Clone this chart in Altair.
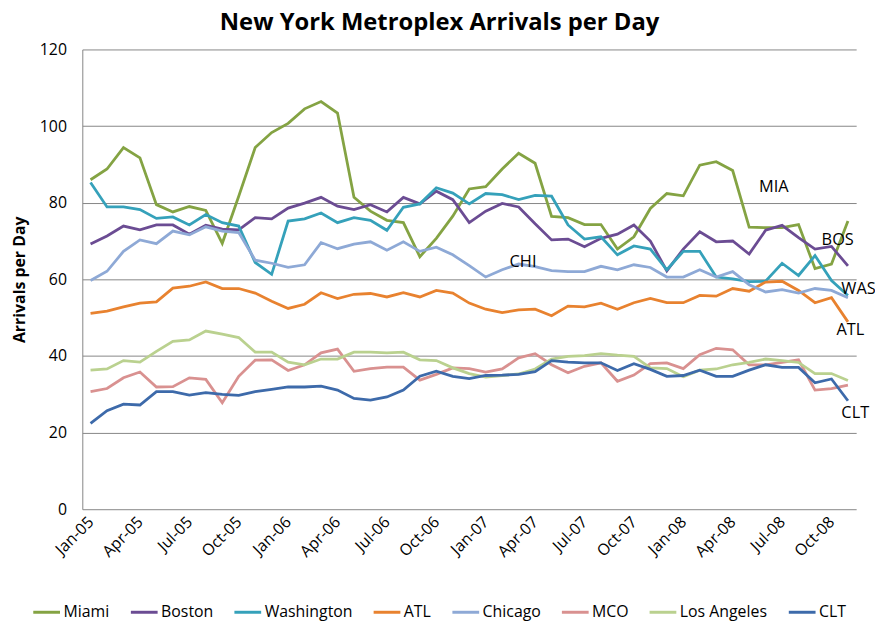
import altair as alt
import pandas as pd

series_names = ["Miami", "Boston", "Washington", "ATL", "Chicago", "MCO", "Los Angeles", "CLT"]
series_colors = ["#84A343", "#6B4C93", "#35A1BA", "#E8822F", "#8EA9D6", "#D99190", "#BAD18F", "#3D6AAA"]

tick_labels = ["Jan-05", "Apr-05", "Jul-05", "Oct-05", "Jan-06", "Apr-06", "Jul-06", "Oct-06",
               "Jan-07", "Apr-07", "Jul-07", "Oct-07", "Jan-08", "Apr-08", "Jul-08", "Oct-08"]

miami = [86.0, 88.8, 94.4, 91.7, 79.5, 77.6, 79.0, 78.0, 69.4, 81.7, 94.4, 98.3, 100.7, 104.5, 106.4, 103.4,
         81.4, 77.8, 75.4, 74.8, 65.9, 70.7, 76.5, 83.6, 84.2, 88.8, 92.9, 90.3, 76.4, 76.1, 74.3, 74.3,
         67.9, 71.1, 78.5, 82.4, 81.8, 89.8, 90.7, 88.4, 73.6, 73.5, 73.5, 74.3, 62.8, 64.0, 75.2]
boston = [69.2, 71.3, 73.9, 72.9, 74.2, 74.2, 71.8, 74.1, 73.1, 72.9, 76.1, 75.8, 78.6, 79.9, 81.4, 79.1,
          78.2, 79.5, 77.6, 81.4, 79.7, 83.0, 80.8, 74.8, 77.8, 79.8, 78.9, 74.5, 70.3, 70.5, 68.5, 70.7,
          71.8, 74.2, 70.0, 62.2, 67.9, 72.4, 69.8, 70.0, 66.6, 72.8, 74.1, 70.9, 67.9, 68.6, 63.5]
washington = [85.3, 78.9, 78.9, 78.2, 75.9, 76.3, 74.2, 76.9, 74.8, 73.9, 64.4, 61.3, 75.2, 75.8, 77.3, 74.8,
              76.1, 75.4, 72.8, 78.8, 79.7, 83.9, 82.5, 79.7, 82.4, 82.1, 80.8, 81.9, 81.7, 74.2, 70.5, 71.1,
              66.4, 68.7, 67.9, 62.5, 67.3, 67.3, 60.6, 60.1, 59.4, 59.5, 64.2, 61.0, 66.2, 59.7, 55.8]
atl = [51.1, 51.7, 52.8, 53.8, 54.1, 57.7, 58.2, 59.3, 57.6, 57.6, 56.4, 54.3, 52.4, 53.5, 56.5, 55.0,
       56.1, 56.3, 55.4, 56.5, 55.4, 57.1, 56.4, 53.8, 52.2, 51.3, 52.0, 52.2, 50.5, 53.0, 52.8, 53.8,
       52.2, 53.9, 55.0, 53.9, 53.9, 55.8, 55.6, 57.6, 56.9, 59.3, 59.5, 57.1, 53.9, 55.2, 48.9]
chicago = [59.7, 62.1, 67.3, 70.3, 69.3, 72.6, 71.6, 73.7, 72.6, 72.2, 65.0, 64.2, 63.1, 63.8, 69.6, 68.0,
           69.2, 69.8, 67.6, 69.8, 67.3, 68.4, 66.4, 63.6, 60.6, 62.5, 64.0, 63.3, 62.3, 62.0, 62.0, 63.4,
           62.5, 63.8, 63.1, 60.6, 60.6, 62.5, 60.6, 62.0, 58.6, 56.7, 57.3, 56.4, 57.6, 57.1, 55.2]
mco = [30.7, 31.5, 34.3, 35.8, 31.9, 32.0, 34.3, 33.9, 27.8, 34.7, 38.9, 39.0, 36.2, 37.7, 40.8, 41.8,
       36.0, 36.7, 37.1, 37.1, 33.7, 35.2, 36.9, 36.7, 35.8, 36.6, 39.5, 40.6, 37.7, 35.6, 37.3, 38.2,
       33.4, 35.0, 38.0, 38.2, 36.7, 40.3, 42.0, 41.6, 37.7, 37.7, 38.3, 39.0, 31.1, 31.5, 32.4]
los_angeles = [36.3, 36.6, 38.8, 38.4, 41.2, 43.8, 44.2, 46.5, 45.7, 44.8, 41.0, 41.0, 38.4, 37.7, 39.2, 39.2,
               41.0, 41.0, 40.8, 41.0, 39.0, 38.8, 36.9, 35.4, 34.5, 34.9, 35.3, 36.6, 39.2, 39.9, 40.1, 40.6,
               40.2, 39.9, 36.9, 36.7, 34.6, 36.3, 36.6, 37.7, 38.3, 39.2, 38.8, 38.3, 35.4, 35.4, 33.6]
clt = [22.4, 25.7, 27.4, 27.2, 30.7, 30.7, 29.8, 30.4, 30.0, 29.7, 30.7, 31.3, 31.9, 31.9, 32.1, 31.1,
       28.9, 28.5, 29.3, 31.1, 34.7, 36.0, 34.7, 34.1, 34.9, 35.0, 35.2, 35.9, 38.8, 38.4, 38.2, 38.2,
       36.2, 38.0, 36.5, 34.7, 34.9, 36.3, 34.7, 34.7, 36.3, 37.7, 37.0, 37.0, 33.0, 34.0, 28.3]

all_values = [miami, boston, washington, atl, chicago, mco, los_angeles, clt]

# direct labels (text, month index, value)
label_texts = ["MIA", "BOS", "CHI", "WAS", "ATL", "CLT"]
label_month = [40.6, 44.4, 25.45, 45.6, 45.3, 45.6]
label_value = [84.0, 70.3, 64.5, 57.4, 46.8, 25.1]

rows = []
for s, vals in zip(series_names, all_values):
    for i, v in enumerate(vals):
        rows.append({"series": s, "idx": i, "value": v})
df = pd.DataFrame(rows)
lab_df = pd.DataFrame({"text": label_texts, "idx": label_month, "value": label_value})

FONT = "Open Sans"
n = len(miami)
label_expr = "[" + ",".join("'" + t + "'" for t in tick_labels) + "][round(datum.value/3)]"

x_scale = alt.Scale(domain=[-0.5, n - 0.5], nice=False, zero=False)
y_scale = alt.Scale(domain=[0, 120], nice=False)

lines = alt.Chart(df).mark_line(strokeWidth=2.8).encode(
    x=alt.X("idx:Q", scale=x_scale,
            axis=alt.Axis(values=list(range(0, n, 3)), labelExpr=label_expr, grid=False,
                          ticks=False, labelAngle=-45, labelAlign="right", labelBaseline="middle",
                          labelPadding=10, title=None, domain=False)),
    y=alt.Y("value:Q", scale=y_scale,
            axis=alt.Axis(values=[0, 20, 40, 60, 80, 100, 120], grid=True, ticks=False,
                          labelPadding=16, title="Arrivals per Day", titleFontWeight="bold",
                          titleFontSize=16, titlePadding=12)),
    color=alt.Color("series:N", scale=alt.Scale(domain=series_names, range=series_colors),
                    sort=series_names,
                    legend=alt.Legend(title=None, orient="none", legendX=-51, legendY=553,
                                      direction="horizontal", columns=8, symbolType="stroke",
                                      symbolSize=729, symbolStrokeWidth=3, labelOffset=2,
                                      columnPadding=14.5, labelFontSize=16, labelFont=FONT,
                                      labelColor="black")),
    detail="series:N",
    order="idx:Q",
)

texts = alt.Chart(lab_df).mark_text(align="left", baseline="middle", fontSize=16.5, font=FONT,
                                    color="black").encode(
    x=alt.X("idx:Q", scale=x_scale),
    y=alt.Y("value:Q", scale=y_scale),
    text="text:N",
)

chart = alt.layer(lines, texts).properties(
    width=781, height=464,
    padding={"left": 75, "top": 39, "right": 19, "bottom": 112},
    autosize="none",
    title=alt.TitleParams("New York Metroplex Arrivals per Day", font=FONT, fontSize=24,
                          fontWeight="bold", anchor="middle", dx=-30, offset=7, color="black"),
).configure_axis(
    labelFont=FONT, labelFontSize=16, labelColor="black", titleFont=FONT, titleColor="black",
    domainColor="#868686", gridColor="#868686", gridWidth=1, domainWidth=1,
).configure_axisY(domain=True).configure_view(stroke=None)

chart.save("out.html", embed_options={"renderer": "svg", "actions": False})
